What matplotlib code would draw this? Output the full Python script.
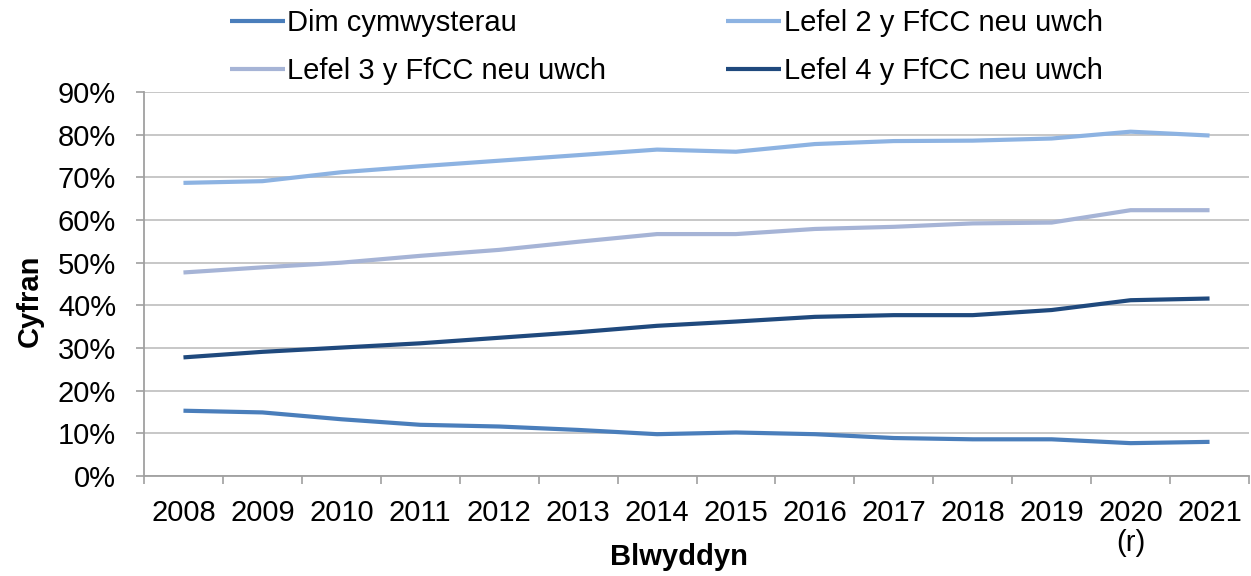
import matplotlib
matplotlib.use("Agg")
import matplotlib.pyplot as plt
from matplotlib.ticker import FixedLocator, PercentFormatter

plt.rcParams['font.family'] = ['Liberation Sans', 'DejaVu Sans']

years = ["2008", "2009", "2010", "2011", "2012", "2013", "2014", "2015",
         "2016", "2017", "2018", "2019", "2020\n(r)", "2021"]
dim_cymwysterau = [15.3, 14.9, 13.3, 12.0, 11.6, 10.8, 9.8, 10.2, 9.8, 8.9, 8.6, 8.6, 7.7, 8.0]
lefel2 = [68.7, 69.1, 71.2, 72.6, 73.9, 75.2, 76.5, 76.0, 77.8, 78.5, 78.6, 79.1, 80.7, 79.8]
lefel3 = [47.7, 48.9, 50.0, 51.6, 53.0, 54.9, 56.7, 56.7, 57.9, 58.4, 59.2, 59.4, 62.3, 62.3]
lefel4 = [27.8, 29.1, 30.1, 31.1, 32.4, 33.7, 35.2, 36.2, 37.3, 37.7, 37.7, 38.9, 41.2, 41.6]

series = [
    ("Dim cymwysterau", dim_cymwysterau, "#4a7ebb"),
    ("Lefel 2 y FfCC neu uwch", lefel2, "#8db3e2"),
    ("Lefel 3 y FfCC neu uwch", lefel3, "#a6b4d6"),
    ("Lefel 4 y FfCC neu uwch", lefel4, "#1f497d"),
]

FS = 21
W, H = 1251, 576
fig = plt.figure(figsize=(W / 100, H / 100), dpi=100)
ax = fig.add_axes([144 / W, 1 - 476 / H, (1249 - 144) / W, (476 - 92) / H])

x = list(range(len(years)))
handles = []
for name, vals, col in series:
    h, = ax.plot(x, vals, color=col, lw=3.0, solid_capstyle='butt', label=name, zorder=3)
    handles.append(h)

ax.set_xlim(-0.5, len(years) - 0.5)
ax.set_ylim(0, 90)
ax.yaxis.set_major_locator(FixedLocator(range(0, 91, 10)))
ax.yaxis.set_major_formatter(PercentFormatter(decimals=0))
ax.grid(axis='y', color='#c3c3c3', lw=1.3)
ax.set_axisbelow(True)

ax.set_xticks(x)
ax.set_xticklabels(years, linespacing=1.1)
ax.xaxis.set_minor_locator(FixedLocator([i - 0.5 for i in range(len(years) + 1)]))
ax.tick_params(axis='x', which='major', length=0, pad=16.5, labelsize=FS, colors='#000000')
ax.tick_params(axis='x', which='minor', length=6, width=1.2, color='#a0a0a0')
ax.tick_params(axis='y', which='major', length=6, width=1.2, color='#a0a0a0', labelsize=FS, pad=14)

for s in ['top', 'right']:
    ax.spines[s].set_visible(False)
for s in ['left', 'bottom']:
    ax.spines[s].set_color('#a0a0a0')
    ax.spines[s].set_linewidth(1.3)

ax.set_ylabel("Cyfran", fontsize=FS, fontweight='bold', va='center')
ax.yaxis.set_label_coords((30 - 144) / (1249 - 144), (476 - 301) / (476 - 92))
ax.set_xlabel("Blwyddyn", fontsize=FS, fontweight='bold', va='center')
ax.xaxis.set_label_coords((679 - 144) / (1249 - 144), (476 - 557) / (476 - 92))

order = [handles[0], handles[2], handles[1], handles[3]]
fig.legend(order, [h.get_label() for h in order], ncol=2, loc='upper left',
           bbox_to_anchor=(230 / W, 1 - 9 / H), frameon=False, fontsize=FS,
           handlelength=1.9, handletextpad=0.07, columnspacing=4.1,
           labelspacing=0.68, borderpad=0, borderaxespad=0)

fig.savefig("out.png", dpi=100)
